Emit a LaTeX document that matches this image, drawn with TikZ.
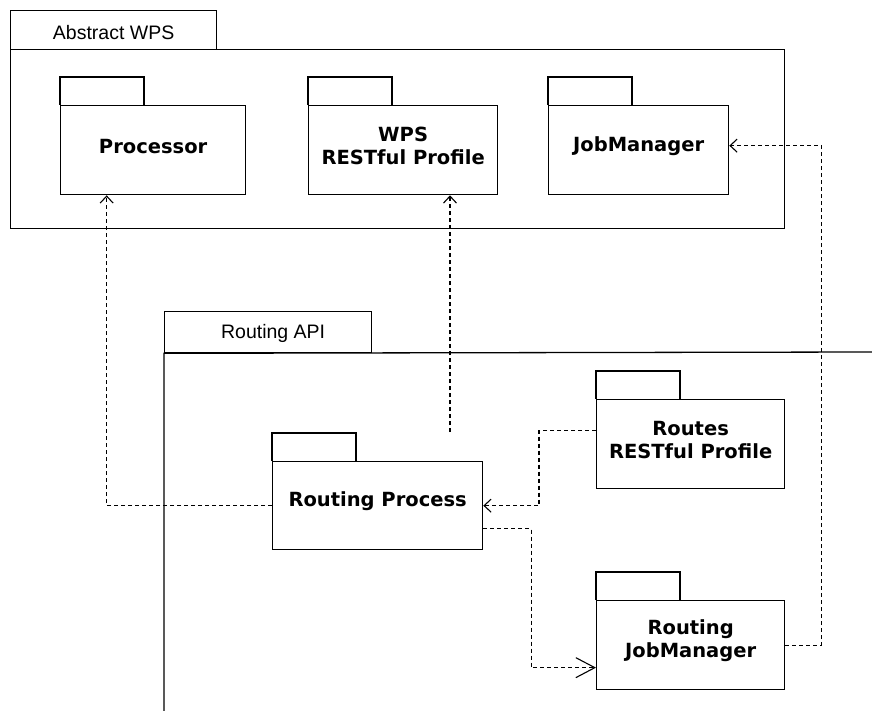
\documentclass[tikz,border=0pt]{standalone}
\usepackage{fontspec}
\setmainfont{Liberation Sans}
\newfontfamily\pkgfont{DejaVu Sans}
\usetikzlibrary{arrows.meta}

\tikzset{
  frame/.style={draw=black, line width=1.3pt},
  pkgbody/.style={draw=black, line width=1.3pt, inner sep=0pt, anchor=north west},
  pkgtext/.style={font=\pkgfont\bfseries\fontsize{19.5}{23}\selectfont, align=center, inner sep=0pt},
  framelabel/.style={font=\fontsize{19.5}{23}\selectfont, inner sep=0pt},
  dep/.style={draw=black, line width=1.1pt, dash pattern=on 4pt off 3pt,
    -{Straight Barb[length=7pt, width=13pt, line width=1.1pt]}},
  depbig/.style={draw=black, line width=1.1pt, dash pattern=on 4pt off 3pt,
    -{Straight Barb[length=19pt, width=20pt, line width=1.1pt]}},
}

% package symbol: body node with a small tab on its top-left corner
\newcommand\umlpkg[6]{%
  \node[pkgbody, minimum width=#4pt, minimum height=#5pt] (#1) at (#2,#3) {};
  \draw[frame] (#1.north west) -- ++(0,-28) -- ++(84,0) -- ++(0,28);
  \node[pkgtext] (#1-text) at ([yshift=4pt]#1.center) {#6};
}

\begin{document}
\begin{tikzpicture}[x=1pt, y=-1pt]
\useasboundingbox (0,0) rectangle (872,711);

% Abstract WPS frame
\node[frame, minimum width=206pt, minimum height=39pt, inner sep=0pt, anchor=north west] (abstab) at (10,10) {};
\node[framelabel] (abslabel) at ([yshift=-2pt]abstab.center) {Abstract WPS};
\node[frame, minimum width=774pt, minimum height=179pt, inner sep=0pt, anchor=north west] (absbody) at (10,49) {};

\umlpkg{proc}{60}{105}{185}{89}{Processor}
\umlpkg{wps}{308}{105}{189}{89}{WPS\\RESTful Profile}
\umlpkg{jm}{548}{105}{180}{89}{JobManager}

% Routing API frame (runs off the right and bottom edges)
\node[frame, minimum width=207pt, minimum height=41pt, inner sep=0pt, anchor=north west] (apitab) at (164,311) {};
\node[framelabel] (apilabel) at ([xshift=5pt,yshift=-1pt]apitab.center) {Routing API};
\draw[frame] (164,711) -- (apitab.south west) -- (872,352);

\umlpkg{rproc}{272}{461}{210}{88}{Routing Process}
\umlpkg{routes}{596}{399}{188}{89}{Routes\\RESTful Profile}
\umlpkg{rjm}{596}{600}{188}{89}{Routing\\JobManager}

% dependencies
\draw[dep] (rproc.west) -| ([xshift=-46.5pt]proc.south);
\coordinate (wpsfrom) at (450,432);
\draw[dep] (wpsfrom) -- (wpsfrom |- wps.south);
\draw[dep] ([yshift=13.5pt]routes.west) -- ++(-57,0) |- (rproc.east);
\draw[depbig] ([yshift=-23pt]rproc.east) -- ++(48,0) |- ([yshift=-22.5pt]rjm.west);
\draw[dep] (rjm.east) -- ++(36,0) |- ([yshift=4.5pt]jm.east);
\end{tikzpicture}
\end{document}
